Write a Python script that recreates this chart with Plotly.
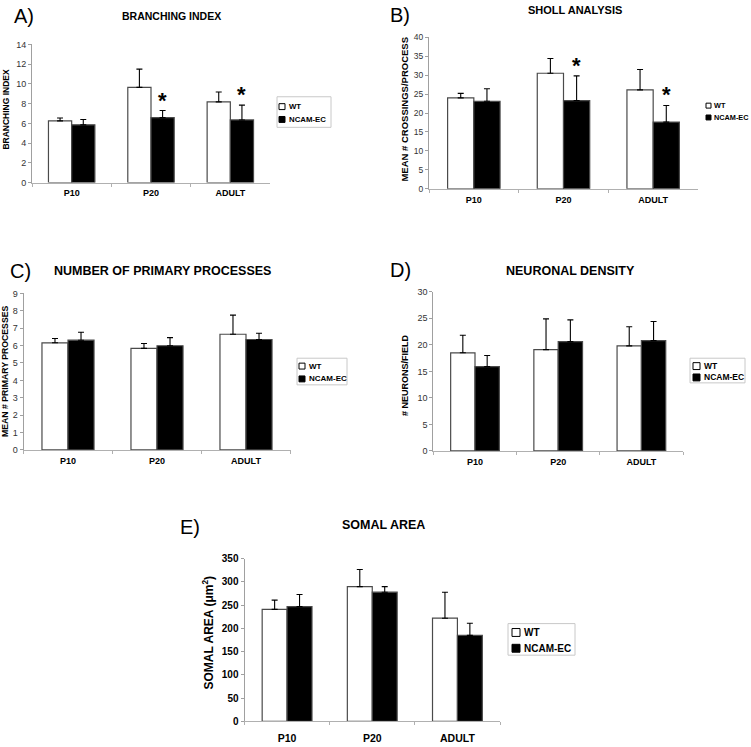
import plotly.graph_objects as go

W, H = 751, 747

CATEGORIES = ["P10", "P20", "ADULT"]
SERIES = ["WT", "NCAM-EC"]

# A) Branching index
A_WT = [6.25, 9.65, 8.18]
A_WT_ERR = [0.30, 1.85, 1.00]
A_EC = [5.85, 6.58, 6.35]
A_EC_ERR = [0.55, 0.72, 1.50]
A_SIG = ["", "*", "*"]

# B) Sholl analysis
B_WT = [24.0, 30.5, 26.1]
B_WT_ERR = [1.2, 3.9, 5.4]
B_EC = [23.1, 23.3, 17.6]
B_EC_ERR = [3.3, 6.5, 4.4]
B_SIG = ["", "*", "*"]

# C) Number of primary processes
C_WT = [6.16, 5.84, 6.65]
C_WT_ERR = [0.25, 0.28, 1.10]
C_EC = [6.31, 5.99, 6.35]
C_EC_ERR = [0.46, 0.47, 0.36]
C_SIG = ["", "", ""]

# D) Neuronal density
D_WT = [18.5, 19.1, 19.8]
D_WT_ERR = [3.3, 5.8, 3.6]
D_EC = [15.9, 20.6, 20.8]
D_EC_ERR = [2.1, 4.1, 3.6]
D_SIG = ["", "", ""]

# E) Somal area
E_WT = [241, 290, 222]
E_WT_ERR = [20, 37, 56]
E_EC = [247, 278, 185]
E_EC_ERR = [26, 12, 26]
E_SIG = ["", "", ""]

FONT = "Liberation Sans, Arial, sans-serif"
BARGAP = 0.415

panels = [
    dict(label="A)", title="BRANCHING INDEX", ytitle="BRANCHING INDEX",
         wt=A_WT, wte=A_WT_ERR, ec=A_EC, ece=A_EC_ERR, sig=A_SIG,
         rng=[0, 14], dtick=2,
         xpx=(32, 270), ypx=(180, 40),
         tickfont=dict(size=9, color="#333"), catfont=9, catstand=2,
         ytitle_pos=(6, 106), ytitle_size=8.5,
         title_pos=(171, 11), title_size=10.5,
         label_pos=(24, 11),
         leg=dict(box=(277, 93, 331, 124), sqx=279, sq=6, rows=(103, 116), tx=287, fs=7.8)),
    dict(label="B)", title="SHOLL ANALYSIS", ytitle="MEAN # CROSSINGS/PROCESS",
         wt=B_WT, wte=B_WT_ERR, ec=B_EC, ece=B_EC_ERR, sig=B_SIG,
         rng=[0, 40], dtick=5,
         xpx=(429, 698), ypx=(186.3, 32.7),
         tickfont=dict(size=8.5, color="#333"), catfont=9, catstand=2,
         ytitle_pos=(405, 105), ytitle_size=9.5,
         title_pos=(575, 5), title_size=11,
         label_pos=(400, 10),
         leg=dict(box=None, sqx=706, sq=5, rows=(102, 114), tx=712, fs=7.3)),
    dict(label="C)", title="NUMBER OF PRIMARY PROCESSES", ytitle="MEAN # PRIMARY PROCESSES",
         wt=C_WT, wte=C_WT_ERR, ec=C_EC, ece=C_EC_ERR, sig=C_SIG,
         rng=[0, 9], dtick=1,
         xpx=(23.5, 290.5), ypx=(451, 292.3),
         tickfont=dict(size=9, color="#333"), catfont=9, catstand=2,
         ytitle_pos=(5, 371), ytitle_size=8.7,
         title_pos=(162, 269.5), title_size=12.5,
         label_pos=(20, 269.5),
         leg=dict(box=(297, 358, 347, 385), sqx=299, sq=6, rows=(366, 379), tx=307, fs=8)),
    dict(label="D)", title="NEURONAL DENSITY", ytitle="# NEURONS/FIELD",
         wt=D_WT, wte=D_WT_ERR, ec=D_EC, ece=D_EC_ERR, sig=D_SIG,
         rng=[0, 30], dtick=5,
         xpx=(433.4, 683), ypx=(452, 290.7),
         tickfont=dict(size=9, color="#333"), catfont=9, catstand=2,
         ytitle_pos=(405, 375), ytitle_size=9,
         title_pos=(570, 269.5), title_size=12.5,
         label_pos=(400, 269),
         leg=dict(box=(690, 358, 745, 383), sqx=693, sq=7, rows=(366, 377.5), tx=702, fs=8.5)),
    dict(label="E)", title="SOMAL AREA", ytitle="SOMAL AREA (\u03bcm<sup>2</sup>)",
         wt=E_WT, wte=E_WT_ERR, ec=E_EC, ece=E_EC_ERR, sig=E_SIG,
         rng=[0, 350], dtick=50,
         xpx=(244.5, 500), ypx=(726, 561.3),
         tickfont=dict(size=10, color="black", weight="bold"), catfont=10.5, catstand=7,
         ytitle_pos=(208, 636), ytitle_size=12,
         title_pos=(383, 527.5), title_size=12.5,
         label_pos=(190, 529.5),
         leg=dict(box=(508, 627, 575, 659), sqx=512, sq=8, rows=(636, 652), tx=522, fs=10)),
]

fig = go.Figure()
annotations = []
shapes = []
layout = {}


def px(x):
    return x / W


def py(y):
    return 1 - y / H


for i, p in enumerate(panels, start=1):
    sfx = "" if i == 1 else str(i)
    xa, ya = "x" + sfx, "y" + sfx
    xdom = [px(p["xpx"][0]), px(p["xpx"][1])]
    ydom = [py(p["ypx"][0]), py(p["ypx"][1])]

    for name, vals, errs, fill in [
        (SERIES[0], p["wt"], p["wte"], "white"),
        (SERIES[1], p["ec"], p["ece"], "black"),
    ]:
        fig.add_trace(go.Bar(
            x=CATEGORIES, y=vals, name=name, xaxis=xa, yaxis=ya,
            marker=dict(color=fill, line=dict(color="#4a4a4a", width=1.2)),
            error_y=dict(type="data", array=errs, arrayminus=[0] * len(errs),
                         symmetric=False, color="black", thickness=1.1, width=3),
            showlegend=False,
        ))

    layout["xaxis" + sfx] = dict(
        domain=xdom, anchor=ya, type="category",
        showline=True, linecolor="#b0b0b0", linewidth=1,
        ticks="outside", tickson="boundaries", ticklen=3, tickcolor="#b0b0b0",
        ticklabelstandoff=p["catstand"],
        showgrid=False, zeroline=False, fixedrange=True,
        tickfont=dict(family=FONT, size=p["catfont"], color="black", weight="bold"),
    )
    layout["yaxis" + sfx] = dict(
        domain=ydom, anchor=xa, range=p["rng"], dtick=p["dtick"],
        showline=True, linecolor="#a0a0a0", linewidth=1,
        ticks="outside", ticklen=3, tickcolor="#a0a0a0",
        showgrid=False, zeroline=False, fixedrange=True,
        tickfont=dict(family=FONT, **p["tickfont"]),
    )

    # significance stars above NCAM-EC bars
    bw = (p["xpx"][1] - p["xpx"][0]) / len(CATEGORIES) * (1 - BARGAP) / 2
    for cat, v, e, s in zip(CATEGORIES, p["ec"], p["ece"], p["sig"]):
        if s:
            annotations.append(dict(
                x=cat, y=v + e, xref=xa, yref=ya, text="<b>" + s + "</b>",
                showarrow=False, xanchor="center", yanchor="bottom",
                xshift=bw / 2, yshift=-4,
                font=dict(family=FONT, size=22, color="black"),
            ))

    # y-axis title
    annotations.append(dict(
        x=px(p["ytitle_pos"][0]), y=py(p["ytitle_pos"][1]), xref="paper", yref="paper",
        text="<b>" + p["ytitle"] + "</b>", textangle=-90, showarrow=False,
        xanchor="center", yanchor="middle",
        font=dict(family=FONT, size=p["ytitle_size"], color="black"),
    ))
    # chart title
    annotations.append(dict(
        x=px(p["title_pos"][0]), y=py(p["title_pos"][1]), xref="paper", yref="paper",
        text="<b>" + p["title"] + "</b>", showarrow=False,
        xanchor="center", yanchor="middle",
        font=dict(family=FONT, size=p["title_size"], color="black"),
    ))
    # panel label
    annotations.append(dict(
        x=px(p["label_pos"][0]), y=py(p["label_pos"][1]), xref="paper", yref="paper",
        text=p["label"], showarrow=False, xanchor="center", yanchor="middle",
        font=dict(family=FONT, size=20, color="black"),
    ))

    # legend: box, swatches and labels
    lg = p["leg"]
    if lg["box"]:
        x0, y0, x1, y1 = lg["box"]
        shapes.append(dict(type="rect", xref="paper", yref="paper",
                           x0=px(x0), x1=px(x1), y0=py(y1), y1=py(y0),
                           line=dict(color="#c8c8c8", width=1), fillcolor="white"))
    for name, fill, row in zip(SERIES, ["white", "black"], lg["rows"]):
        h = lg["sq"] / 2
        shapes.append(dict(type="rect", xref="paper", yref="paper",
                           x0=px(lg["sqx"]), x1=px(lg["sqx"] + lg["sq"]),
                           y0=py(row + h), y1=py(row - h),
                           line=dict(color="black", width=1), fillcolor=fill))
        annotations.append(dict(
            x=px(lg["tx"]), y=py(row), xref="paper", yref="paper",
            text="<b>" + name + "</b>", showarrow=False,
            xanchor="left", yanchor="middle",
            font=dict(family=FONT, size=lg["fs"], color="black"),
        ))

fig.update_layout(
    width=W, height=H, autosize=False,
    margin=dict(l=0, r=0, t=0, b=0),
    paper_bgcolor="white", plot_bgcolor="white",
    barmode="group", bargap=BARGAP, bargroupgap=0,
    font=dict(family=FONT, color="black"),
    annotations=annotations,
    shapes=shapes,
    **layout,
)

fig.write_html(
    "out.html",
    config={"displayModeBar": False},
    post_script="document.body.style.margin='0';document.body.style.padding='0';",
)
